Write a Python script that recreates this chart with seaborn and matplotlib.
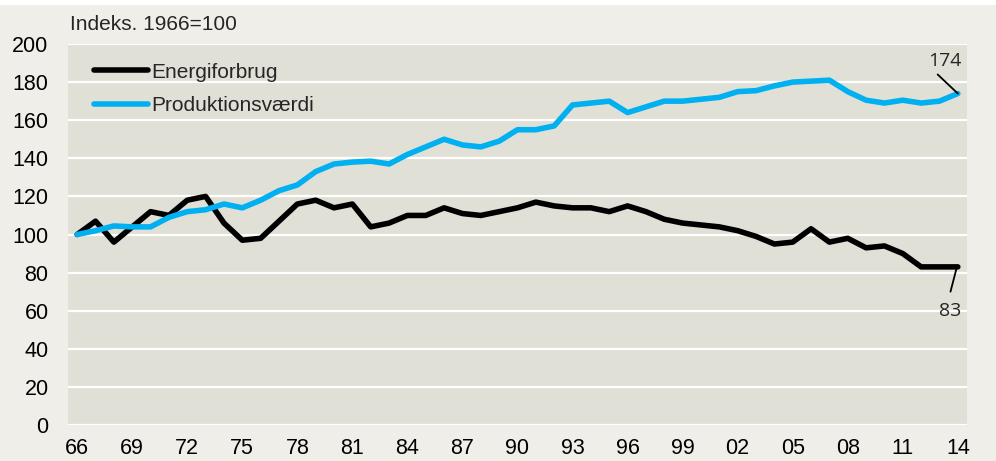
import numpy as np
import pandas as pd
import matplotlib
matplotlib.use("Agg")
import matplotlib.pyplot as plt
import seaborn as sns
from matplotlib.patches import Rectangle

# data (index 1966 = 100)
years = list(range(1966, 2015))
energiforbrug = [100, 107, 96, 104, 112, 110, 118, 120, 106, 97,
                 98, 107, 116, 118, 114, 116, 104, 106, 110, 110,
                 114, 111, 110, 112, 114, 117, 115, 114, 114, 112,
                 115, 112, 108, 106, 105, 104, 102, 99, 95, 96,
                 103, 96, 98, 93, 94, 90, 83, 83, 83]
produktionsvaerdi = [100, 102, 104.5, 104, 104, 109, 112, 113, 116, 114,
                     118, 123, 126, 133, 137, 138, 138.5, 137, 142, 146,
                     150, 147, 146, 149, 155, 155, 157, 168, 169, 170,
                     164, 167, 170, 170, 171, 172, 175, 175.5, 178, 180,
                     180.5, 181, 175, 170.5, 169, 170.5, 169, 170, 174]
tick_years = list(range(1966, 2015, 3))
tick_labels = [f"{y % 100:02d}" for y in tick_years]

df = pd.DataFrame({"year": years,
                   "Energiforbrug": energiforbrug,
                   "Produktionsværdi": produktionsvaerdi})
df_long = df.melt(id_vars="year", var_name="serie", value_name="indeks")

sns.set_theme(style="white")
plt.rcParams['font.family'] = ['Liberation Sans Narrow', 'Liberation Sans', 'DejaVu Sans']

fig = plt.figure(figsize=(9.96, 4.61), dpi=100)
fig.patch.set_facecolor("#efeee8")
fig.patches.append(Rectangle((0, 1 - 5 / 461), 1, 5 / 461, transform=fig.transFigure,
                             facecolor="white", edgecolor="none", zorder=0))

ax = fig.add_axes([68 / 996, 1 - 425 / 461, 899 / 996, 381 / 461])
ax.set_facecolor("#e0e0d6")

sns.lineplot(data=df_long, x="year", y="indeks", hue="serie",
             palette={"Energiforbrug": "black", "Produktionsværdi": "#00b0f0"},
             linewidth=4.0, ax=ax)

ax.set_xlim(1965.5, 2014.5)
ax.set_ylim(0, 200)
ax.set_yticks(range(0, 201, 20))
ax.set_xticks(tick_years)
ax.set_xticklabels(tick_labels)
ax.tick_params(axis="both", length=0, labelsize=15.5, colors="black")
ax.tick_params(axis="x", pad=9)
ax.tick_params(axis="y", pad=14)
ax.yaxis.grid(True, color="white", linewidth=1.6)
ax.set_axisbelow(True)
for s in ax.spines.values():
    s.set_visible(False)
ax.set_xlabel("")
ax.set_ylabel("")

leg = ax.legend(loc="upper left", bbox_to_anchor=(0.01, 0.995), frameon=False,
                handlelength=2.6, handletextpad=0.15, labelspacing=0.7,
                borderpad=0.3, prop={"family": "Liberation Sans", "size": 15})
for line in leg.get_lines():
    line.set_linewidth(4.0)

# end labels with leader lines
last_e = energiforbrug[-1]
last_p = produktionsvaerdi[-1]
ax.plot([2012.9, years[-1]], [184, last_p], color="black", lw=1.3, zorder=5)
ax.text(2013.3, 191, f"{round(last_p)}", ha="center", va="center",
        fontsize=14, family="Open Sans")
ax.plot([2013.6, years[-1] - 0.05], [70, last_e], color="black", lw=1.3, zorder=5)
ax.text(2013.6, 60, f"{round(last_e)}", ha="center", va="center",
        fontsize=14, family="Open Sans")

fig.text(70 / 996, 1 - 25 / 461, "Indeks. 1966=100", ha="left", va="center", fontsize=15)

fig.savefig("out.png", dpi=100, facecolor=fig.get_facecolor())
